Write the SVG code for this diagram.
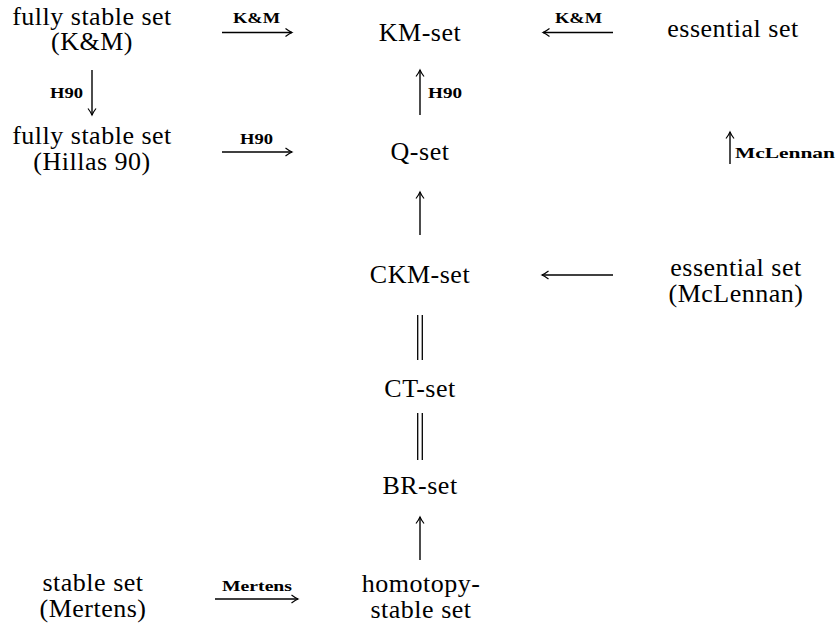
<svg xmlns="http://www.w3.org/2000/svg" width="836" height="627" viewBox="0 0 836 627">
<defs>
<marker id="ah" viewBox="-8 -5 10 10" refX="0" refY="0" markerWidth="10" markerHeight="10" markerUnits="userSpaceOnUse" orient="auto">
<path d="M -6.5,-4 Q -2.5,-1 0,0 Q -2.5,1 -6.5,4" fill="none" stroke="#000" stroke-width="1.2"/>
</marker>
<style>
text{font-family:"Liberation Serif","Tinos","Times New Roman","Noto Serif","DejaVu Serif",serif;fill:#000;font-style:normal}
.n{font-size:26px;font-weight:400;text-anchor:middle;letter-spacing:0.5px}
.l{font-size:14px;font-weight:bold}
.a{stroke:#000;stroke-width:1.4;fill:none;marker-end:url(#ah)}
.e{stroke:#000;stroke-width:1.3;fill:none}
</style>
</defs>
<rect width="836" height="627" fill="#fff"/>
<g id="fss-km"><text class="n" x="92" y="25">fully stable set</text><text class="n" x="92" y="50">(K&amp;M)</text></g>
<g id="km-set"><text class="n" x="420" y="41">KM-set</text></g>
<g id="essential"><text class="n" x="733" y="37">essential set</text></g>
<g id="fss-h90"><text class="n" x="92" y="144">fully stable set</text><text class="n" x="92" y="170">(Hillas 90)</text></g>
<g id="q-set"><text class="n" x="420" y="160">Q-set</text></g>
<g id="ckm-set"><text class="n" x="420" y="283">CKM-set</text></g>
<g id="essential-mcl"><text class="n" x="736" y="276">essential set</text><text class="n" x="736" y="302">(McLennan)</text></g>
<g id="ct-set"><text class="n" x="420" y="397">CT-set</text></g>
<g id="br-set"><text class="n" x="420" y="494">BR-set</text></g>
<g id="stable-mertens"><text class="n" x="93" y="591">stable set</text><text class="n" x="93" y="617">(Mertens)</text></g>
<g id="homotopy"><text class="n" x="421" y="592">homotopy-</text><text class="n" x="421" y="618">stable set</text></g>
<g id="connectors">
<line class="a" x1="222" y1="32.5" x2="292" y2="32.5"/>
<text class="l" x="233" y="23" textLength="47" lengthAdjust="spacingAndGlyphs">K&amp;M</text>
<line class="a" x1="613" y1="32.5" x2="543" y2="32.5"/>
<text class="l" x="555" y="23" textLength="47" lengthAdjust="spacingAndGlyphs">K&amp;M</text>
<line class="a" x1="92" y1="70" x2="92" y2="115"/>
<text class="l" x="50" y="98" textLength="33" lengthAdjust="spacingAndGlyphs">H90</text>
<line class="a" x1="420" y1="115" x2="420" y2="70"/>
<text class="l" x="428" y="98" textLength="34" lengthAdjust="spacingAndGlyphs">H90</text>
<line class="a" x1="222" y1="152" x2="292" y2="152"/>
<text class="l" x="240" y="144" textLength="33" lengthAdjust="spacingAndGlyphs">H90</text>
<line class="a" x1="730" y1="164" x2="730" y2="132"/>
<text class="l" x="735" y="158" textLength="100" lengthAdjust="spacingAndGlyphs">McLennan</text>
<line class="a" x1="420" y1="235" x2="420" y2="192"/>
<line class="a" x1="613" y1="275" x2="542" y2="275"/>
<line class="e" x1="417.7" y1="315" x2="417.7" y2="360"/>
<line class="e" x1="422.3" y1="315" x2="422.3" y2="360"/>
<line class="e" x1="417.7" y1="413" x2="417.7" y2="460"/>
<line class="e" x1="422.3" y1="413" x2="422.3" y2="460"/>
<line class="a" x1="420" y1="560" x2="420" y2="517"/>
<line class="a" x1="215" y1="599" x2="298" y2="599"/>
<text class="l" x="222" y="591" textLength="70" lengthAdjust="spacingAndGlyphs">Mertens</text>
</g>
</svg>
